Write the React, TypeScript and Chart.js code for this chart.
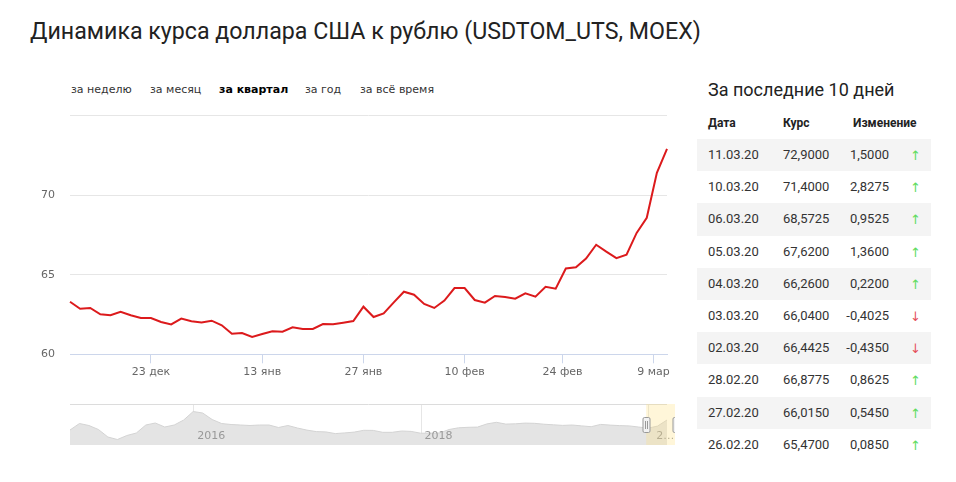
import React, { useEffect, useRef } from "react";
import { Chart, registerables } from "chart.js";

Chart.register(...registerables);

// ---------- data ----------
const titleText = "Динамика курса доллара США к рублю (USDTOM_UTS, MOEX)";
const periods = ["за неделю", "за месяц", "за квартал", "за год", "за всё время"];
const activePeriod = "за квартал";

const dates = [
  "11.12.19", "12.12.19", "13.12.19", "16.12.19", "17.12.19", "18.12.19", "19.12.19", "20.12.19",
  "23.12.19", "24.12.19", "25.12.19", "26.12.19", "27.12.19", "30.12.19", "31.12.19",
  "03.01.20", "06.01.20", "09.01.20", "10.01.20", "13.01.20", "14.01.20", "15.01.20", "16.01.20",
  "17.01.20", "20.01.20", "21.01.20", "22.01.20", "23.01.20", "24.01.20", "27.01.20", "28.01.20",
  "29.01.20", "30.01.20", "31.01.20", "03.02.20", "04.02.20", "05.02.20", "06.02.20", "07.02.20",
  "10.02.20", "11.02.20", "12.02.20", "13.02.20", "14.02.20", "17.02.20", "18.02.20", "19.02.20",
  "20.02.20", "21.02.20", "25.02.20", "26.02.20", "27.02.20", "28.02.20", "02.03.20", "03.03.20",
  "04.03.20", "05.03.20", "06.03.20", "10.03.20", "11.03.20",
];
const rates = [
  63.30, 62.86, 62.91, 62.51, 62.45, 62.67, 62.45, 62.28,
  62.28, 62.03, 61.88, 62.24, 62.07, 62.00, 62.11,
  61.82, 61.29, 61.34, 61.09, 61.27, 61.44, 61.42, 61.69,
  61.59, 61.59, 61.90, 61.88, 61.98, 62.09, 62.99, 62.34,
  62.57, 63.26, 63.93, 63.74, 63.16, 62.91, 63.37, 64.16,
  64.16, 63.41, 63.24, 63.66, 63.60, 63.49, 63.83, 63.62,
  64.24, 64.12, 65.385, 65.47, 66.015, 66.8775, 66.4425, 66.04,
  66.26, 67.62, 68.5725, 71.40, 72.90,
];
// tick positions in point-index units (holidays fall between trading days)
const xTickPos = [8, 19, 29, 39, 48.67, 57.67];
const xTickLabels = ["23 дек", "13 янв", "27 янв", "10 фев", "24 фев", "9 мар"];
const yMin = 60;
const yMax = 75;
const yStep = 5;

// navigator (long history, monthly)
const navMonths = [
  "2014-12",
  "2015-01", "2015-02", "2015-03", "2015-04", "2015-05", "2015-06", "2015-07", "2015-08", "2015-09", "2015-10", "2015-11", "2015-12",
  "2016-01", "2016-02", "2016-03", "2016-04", "2016-05", "2016-06", "2016-07", "2016-08", "2016-09", "2016-10", "2016-11", "2016-12",
  "2017-01", "2017-02", "2017-03", "2017-04", "2017-05", "2017-06", "2017-07", "2017-08", "2017-09", "2017-10", "2017-11", "2017-12",
  "2018-01", "2018-02", "2018-03", "2018-04", "2018-05", "2018-06", "2018-07", "2018-08", "2018-09", "2018-10", "2018-11", "2018-12",
  "2019-01", "2019-02", "2019-03", "2019-04", "2019-05", "2019-06", "2019-07", "2019-08", "2019-09", "2019-10", "2019-11", "2019-12",
  "2020-01", "2020-02", "2020-03",
];
const navValues = [
  60.0,
  66.5, 64.5, 60.5, 53.0, 50.5, 54.5, 57.0, 65.0, 67.0, 63.0, 65.0, 70.0,
  78.5, 77.0, 70.5, 66.5, 65.5, 65.0, 64.5, 65.0, 65.0, 62.5, 64.5, 62.0,
  59.9, 58.4, 58.1, 56.4, 57.1, 57.9, 59.7, 59.6, 57.7, 57.7, 59.0, 58.6,
  56.8, 56.8, 57.0, 60.5, 62.2, 62.7, 62.9, 66.1, 67.7, 65.9, 66.2, 66.9,
  66.7, 65.8, 65.2, 64.6, 65.0, 64.1, 63.3, 65.6, 64.9, 64.4, 64.1, 63.0,
  61.8, 63.9, 70.0,
];
const navYearTicks = ["2016-01", "2018-01", "2020-01"];
const navYearLabels = ["2016", "2018", "2…"];
const navSelFrom = 60.8;
const navSelTo = 64;
const navMin = 45;
const navMax = 86;

// table
const tableTitle = "За последние 10 дней";
const tableHeaders = ["Дата", "Курс", "Изменение"];
const tableDates = ["11.03.20", "10.03.20", "06.03.20", "05.03.20", "04.03.20", "03.03.20", "02.03.20", "28.02.20", "27.02.20", "26.02.20"];
const tableRates = ["72,9000", "71,4000", "68,5725", "67,6200", "66,2600", "66,0400", "66,4425", "66,8775", "66,0150", "65,4700"];
const tableChanges = ["1,5000", "2,8275", "0,9525", "1,3600", "0,2200", "-0,4025", "-0,4350", "0,8625", "0,5450", "0,0850"];

// ---------- components ----------
function MainChart() {
  const ref = useRef<HTMLCanvasElement | null>(null);
  useEffect(() => {
    if (!ref.current) return;
    const chart = new Chart(ref.current, {
      type: "line",
      data: {
        labels: dates,
        datasets: [
          {
            data: rates,
            borderColor: "#dc1a1c",
            borderWidth: 2,
            pointRadius: 0,
            tension: 0,
            fill: false,
            clip: false as any,
          },
        ],
      },
      options: {
        animation: false,
        responsive: false,
        maintainAspectRatio: false,
        layout: { padding: { top: 15.4, right: 13, left: 0, bottom: 0 } },
        plugins: { legend: { display: false }, tooltip: { enabled: false } },
        scales: {
          x: {
            type: "category",
            offset: false,
            afterBuildTicks: (scale: any) => {
              scale.ticks = xTickPos.map((v) => ({ value: v }));
            },
            afterFit: (scale: any) => {
              scale.height = 35.7;
            },
            grid: {
              display: true,
              drawOnChartArea: false,
              drawTicks: true,
              tickLength: 9,
              color: "#ccd6eb",
              offset: false,
            },
            border: { display: true, color: "#ccd6eb", width: 1 },
            ticks: {
              autoSkip: false,
              maxRotation: 0,
              minRotation: 0,
              padding: 2,
              color: "#666666",
              font: { family: "DejaVu Sans", size: 11 },
              callback: (_v: any, i: number) => xTickLabels[i],
            },
          },
          y: {
            min: yMin,
            max: yMax,
            afterFit: (scale: any) => {
              scale.width = 50;
            },
            grid: {
              drawTicks: true,
              tickLength: 15,
              tickColor: "rgba(0,0,0,0)",
              color: (ctx: any) => (ctx.tick && ctx.tick.value === yMin ? "rgba(0,0,0,0)" : "#e6e6e6"),
            },
            border: { display: false },
            ticks: {
              stepSize: yStep,
              padding: 0,
              color: "#666666",
              font: { family: "DejaVu Sans", size: 11 },
              callback: (v: any) => (v === yMax ? "" : String(v)),
            },
          },
        },
      },
    });
    return () => chart.destroy();
  }, []);
  return (
    <canvas
      ref={ref}
      width={660}
      height={290}
      style={{ position: "absolute", left: 20, top: 100, width: 660, height: 290 }}
    />
  );
}

function Navigator() {
  const ref = useRef<HTMLCanvasElement | null>(null);
  useEffect(() => {
    if (!ref.current) return;
    const navPlugin = {
      id: "navDecor",
      beforeDatasetsDraw(chart: any) {
        const { ctx, chartArea } = chart;
        const xs = chart.scales.x;
        ctx.save();
        ctx.strokeStyle = "#e6e6e6";
        ctx.lineWidth = 1;
        navYearTicks.forEach((t) => {
          const px = Math.round(xs.getPixelForValue(navMonths.indexOf(t))) + 0.5;
          ctx.beginPath();
          ctx.moveTo(px, 0);
          ctx.lineTo(px, chartArea.bottom);
          ctx.stroke();
        });
        ctx.strokeStyle = "#dcdcdc";
        ctx.beginPath();
        ctx.moveTo(chartArea.left, 0.5);
        ctx.lineTo(chartArea.right, 0.5);
        ctx.stroke();
        ctx.restore();
      },
      afterDatasetsDraw(chart: any) {
        const { ctx, chartArea } = chart;
        const xs = chart.scales.x;
        ctx.save();
        ctx.font = "11px 'DejaVu Sans'";
        ctx.fillStyle = "#999999";
        ctx.textBaseline = "middle";
        ctx.textAlign = "left";
        navYearTicks.forEach((t, i) => {
          const px = xs.getPixelForValue(navMonths.indexOf(t));
          if (i === navYearTicks.length - 1) {
            const sx = xs.getPixelForValue(navSelFrom);
            ctx.fillText(navYearLabels[i], sx + 10, 32);
          } else {
            ctx.fillText(navYearLabels[i], px + 4, 32);
          }
        });
        const x1 = xs.getPixelForValue(navSelFrom);
        const x2 = xs.getPixelForValue(navSelTo);
        ctx.fillStyle = "rgba(255, 225, 130, 0.3)";
        ctx.fillRect(x1, 0, x2 - x1, chartArea.bottom);
        [x1, x2].forEach((hx) => {
          const cx = Math.round(hx) + 0.5;
          ctx.fillStyle = "#f2f2f2";
          ctx.strokeStyle = "#999999";
          ctx.lineWidth = 1;
          ctx.beginPath();
          (ctx as any).roundRect(cx - 3.5, 13.5, 7, 15, 1.5);
          ctx.fill();
          ctx.stroke();
          ctx.beginPath();
          ctx.moveTo(cx - 1, 17);
          ctx.lineTo(cx - 1, 25);
          ctx.moveTo(cx + 1, 17);
          ctx.lineTo(cx + 1, 25);
          ctx.stroke();
        });
        ctx.restore();
      },
    };
    const chart = new Chart(ref.current, {
      type: "line",
      data: {
        labels: navMonths,
        datasets: [
          {
            data: navValues,
            borderColor: "#d4d4d4",
            backgroundColor: "#e4e4e4",
            borderWidth: 1,
            pointRadius: 0,
            tension: 0,
            fill: "start",
          },
        ],
      },
      options: {
        animation: false,
        responsive: false,
        maintainAspectRatio: false,
        layout: { padding: { left: 8, right: 8, top: 0, bottom: 0 } },
        plugins: { legend: { display: false }, tooltip: { enabled: false } },
        scales: {
          x: { type: "category", display: false, offset: false },
          y: { display: false, min: navMin, max: navMax },
        },
      },
      plugins: [navPlugin],
    });
    return () => chart.destroy();
  }, []);
  return (
    <canvas
      ref={ref}
      width={613}
      height={41}
      style={{ position: "absolute", left: 62, top: 404, width: 613, height: 41 }}
    />
  );
}

const periodLefts = [71, 150, 219, 305, 360];

function RateTable() {
  const rowTop = 139;
  const rowH = 32.2;
  return (
    <div style={{ position: "absolute", left: 0, top: 0 }}>
      <div
        style={{
          position: "absolute",
          left: 708,
          top: 78,
          fontFamily: "Roboto",
          fontSize: 18,
          lineHeight: "24px",
          color: "#222",
          whiteSpace: "nowrap",
        }}
      >
        {tableTitle}
      </div>
      {tableHeaders.map((h, i) => (
        <div
          key={h}
          style={{
            position: "absolute",
            left: [708, 783, 853][i],
            top: 115,
            fontFamily: "Roboto",
            fontWeight: 700,
            fontSize: 12,
            lineHeight: "16px",
            color: "#222",
            whiteSpace: "nowrap",
          }}
        >
          {h}
        </div>
      ))}
      {tableDates.map((d, i) => {
        const up = !tableChanges[i].startsWith("-");
        return (
          <div
            key={d}
            style={{
              position: "absolute",
              left: 697,
              top: rowTop + i * rowH,
              width: 234,
              height: rowH,
              background: i % 2 === 0 ? "#f4f4f4" : "transparent",
              fontFamily: "Roboto",
              fontSize: 13,
              color: "#333",
            }}
          >
            <span style={{ position: "absolute", left: 11, top: 0, lineHeight: rowH + "px" }}>{d}</span>
            <span style={{ position: "absolute", left: 86, top: 0, lineHeight: rowH + "px" }}>{tableRates[i]}</span>
            <span style={{ position: "absolute", right: 42, top: 0, lineHeight: rowH + "px", textAlign: "right" }}>
              {tableChanges[i]}
            </span>
            <span
              style={{
                position: "absolute",
                left: 213,
                top: 1,
                lineHeight: rowH + "px",
                fontFamily: "DejaVu Sans",
                fontSize: 13,
                color: up ? "#5fdc5f" : "#e5505c",
              }}
            >
              {up ? "↑" : "↓"}
            </span>
          </div>
        );
      })}
    </div>
  );
}

export default function App() {
  return (
    <div
      style={{
        position: "absolute",
        left: 0,
        top: 0,
        width: 956,
        height: 482,
        background: "#ffffff",
        overflow: "hidden",
      }}
    >
      <div
        style={{
          position: "absolute",
          left: 30,
          top: 15,
          fontFamily: "Roboto",
          fontSize: 23.2,
          lineHeight: "32px",
          color: "#222",
          whiteSpace: "nowrap",
        }}
      >
        {titleText}
      </div>
      {periods.map((p, i) => (
        <div
          key={p}
          style={{
            position: "absolute",
            left: periodLefts[i],
            top: 82,
            fontFamily: "DejaVu Sans",
            fontSize: 11,
            lineHeight: "16px",
            fontWeight: p === activePeriod ? 700 : 400,
            color: p === activePeriod ? "#000" : "#333",
            whiteSpace: "nowrap",
          }}
        >
          {p}
        </div>
      ))}
      <MainChart />
      <Navigator />
      <RateTable />
    </div>
  );
}
